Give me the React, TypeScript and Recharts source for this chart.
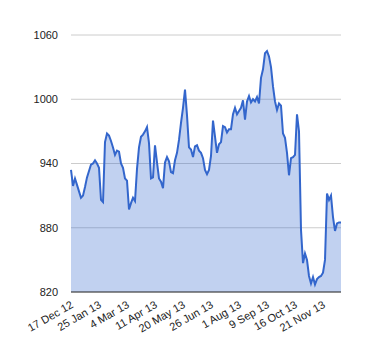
import React from 'react';
import { AreaChart, Area, XAxis, YAxis, CartesianGrid } from 'recharts';

// closing values (about every 2 trading days)
const prices = [
  934, 919, 926, 920, 914, 908, 910, 918, 927, 933,
  939, 940, 943, 940, 936, 906, 904, 960, 968, 966,
  961, 955, 948, 952, 951, 940, 936, 926, 924, 897,
  903, 908, 905, 935, 955, 965, 967, 970, 974, 959,
  926, 927, 957, 941, 926, 923, 917, 941, 946, 942,
  932, 931, 943, 950, 962, 978, 992, 1009, 985, 955,
  953, 946, 956, 957, 952, 950, 945, 934, 930, 934,
  947, 980, 965, 950, 958, 960, 975, 974, 969, 972,
  972, 986, 992, 986, 989, 992, 999, 981, 998, 1003,
  997, 1000, 998, 1002, 996, 1020, 1028, 1043, 1045, 1040,
  1030, 1012, 998, 990, 996, 994, 968, 964, 950, 929,
  945, 946, 948, 986, 970, 878, 847, 856, 850, 835,
  828, 834, 827, 832, 834, 835, 838, 850, 912, 906,
  910, 890, 877, 884, 885, 885,
];

const tickLabels = [
  '17 Dec 12', '25 Jan 13', '4 Mar 13', '11 Apr 13', '20 May 13',
  '26 Jun 13', '1 Aug 13', '9 Sep 13', '16 Oct 13', '21 Nov 13',
];
const tickIndex = [0, 14, 28, 42, 56, 70, 84, 98, 112, 126];

const yTicks = [820, 880, 940, 1000, 1060];

const data = prices.map((v, i) => ({ i, v }));

const DateTick = (props: any) => {
  const { x, y, payload } = props;
  const k = tickIndex.indexOf(payload.value);
  const tx = x + 3;
  const ty = y + 13;
  return (
    <text
      x={tx}
      y={ty}
      transform={`rotate(-30, ${tx}, ${ty})`}
      textAnchor="end"
      fontSize={11}
      fill="#222"
      fontFamily="Liberation Sans, Arial, sans-serif"
    >
      {tickLabels[k]}
    </text>
  );
};

export default function App() {
  return (
    <div style={{ position: 'absolute', left: 0, top: 0, background: '#fff' }}>
      <AreaChart
        width={380}
        height={360}
        data={data}
        margin={{ top: 35, right: 39, bottom: 0, left: 0 }}
      >
        <CartesianGrid vertical={false} stroke="#cccccc" />
        <XAxis
          dataKey="i"
          type="number"
          domain={[0, prices.length - 1]}
          ticks={tickIndex}
          interval={0}
          height={68}
          tickLine={false}
          tickSize={0}
          axisLine={{ stroke: '#333333', strokeWidth: 1 }}
          tick={<DateTick />}
        />
        <YAxis
          domain={[820, 1060]}
          ticks={yTicks}
          width={71}
          axisLine={false}
          tickLine={false}
          tickSize={0}
          tickMargin={13}
          tick={{ fontSize: 11, fill: '#222', fontFamily: 'Liberation Sans, Arial, sans-serif' }}
        />
        <Area
          type="linear"
          dataKey="v"
          stroke="#3366cc"
          strokeWidth={2}
          fill="#3366cc"
          fillOpacity={0.3}
          baseValue="dataMin"
          dot={false}
          activeDot={false}
          isAnimationActive={false}
        />
      </AreaChart>
    </div>
  );
}
